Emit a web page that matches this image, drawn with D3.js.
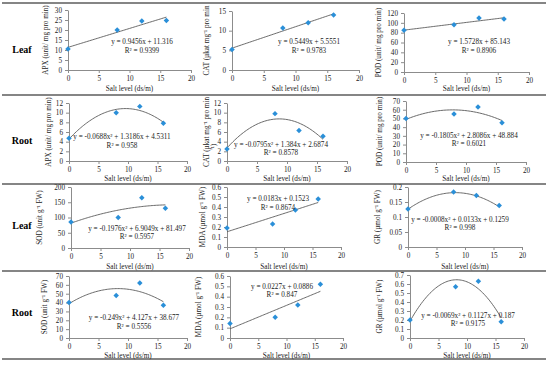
<!DOCTYPE html>
<html>
<head>
<meta charset="utf-8">
<script src="https://cdn.jsdelivr.net/npm/d3@7"></script>
<style>
  body { margin: 0; background: #fff; }
  svg { font-family: "Liberation Serif", "Times New Roman", serif; }
</style>
</head>
<body>
<div id="chart"></div>
<script>
// salt levels (ds/m)
const salt = [0, 8, 12, 16];

const apxLeaf = [10.5, 20, 24.5, 24.8];
const catLeaf = [5.2, 10.7, 12, 14];
const podLeaf = [85, 96, 110, 108];
const apxRoot = [4.7, 10, 11.3, 7.8];
const catRoot = [2.5, 9.8, 6.3, 5.1];
const podRoot = [50, 55, 63, 45];
const sodLeaf = [85, 100, 165, 130];
const mdaLeaf = [0.19, 0.23, 0.37, 0.48];
const grLeaf = [0.127, 0.183, 0.172, 0.138];
const sodRoot = [40, 48, 62, 37];
const mdaRoot = [0.14, 0.2, 0.32, 0.52];
const grRoot = [0.2, 0.57, 0.63, 0.18];

// trend line coefficients [x², x, const] as printed on the chart
const fitApxLeaf = [0, 0.9456, 11.316];
const fitCatLeaf = [0, 0.5449, 5.5551];
const fitPodLeaf = [0, 1.5728, 85.143];
const fitApxRoot = [-0.0688, 1.3186, 4.5311];
const fitCatRoot = [-0.0795, 1.384, 2.6874];
const fitPodRoot = [-0.1805, 2.8086, 48.884];
const fitSodLeaf = [-0.1976, 6.9049, 81.497];
const fitMdaLeaf = [0, 0.0183, 0.1523];
const fitGrLeaf = [-0.0008, 0.0133, 0.1259];
const fitSodRoot = [-0.249, 4.127, 38.677];
const fitMdaRoot = [0, 0.0227, 0.0886];
const fitGrRoot = [-0.0069, 0.1127, 0.187];

const eqTexts = [
  "y = 0.9456x + 11.316", "y = 0.5449x + 5.5551", "y = 1.5728x + 85.143",
  "y = -0.0688x² + 1.3186x + 4.5311", "y = -0.0795x² + 1.384x + 2.6874", "y = -0.1805x² + 2.8086x + 48.884",
  "y = -0.1976x² + 6.9049x + 81.497", "y = 0.0183x + 0.1523", "y = -0.0008x² + 0.0133x + 0.1259",
  "y = -0.249x² + 4.127x + 38.677", "y = 0.0227x + 0.0886", "y = -0.0069x² + 0.1127x + 0.187"
];
const r2Texts = [
  "R² = 0.9399", "R² = 0.9783", "R² = 0.8906",
  "R² = 0.958", "R² = 0.8578", "R² = 0.6021",
  "R² = 0.5957", "R² = 0.8674", "R² = 0.998",
  "R² = 0.5556", "R² = 0.847", "R² = 0.9175"
];
const yTitles = [
  "APX (unit/ mg pro min)", "CAT (µkat mg⁻¹ pro min", "POD (unit/ mg pro min)",
  "APX (unit/ mg pro min)", "CAT (µkat mg⁻¹ pro min", "POD (unit/ mg pro min)",
  "SOD (unit g⁻¹ FW)", "MDA (µmol g⁻¹ FW)", "GR (µmol g⁻¹ FW)",
  "SOD (unit g⁻¹ FW)", "MDA (µmol g⁻¹ FW)", "GR (µmol g⁻¹ FW)"
];
const yMax = [30, 15, 120, 12, 12, 70, 200, 0.6, 0.2, 70, 0.6, 0.7];
const yStep = [5, 5, 20, 2, 2, 10, 50, 0.1, 0.05, 10, 0.1, 0.1];
const rowLabels = ["Leaf", "Root", "Leaf", "Root"];

const values = [apxLeaf, catLeaf, podLeaf, apxRoot, catRoot, podRoot, sodLeaf, mdaLeaf, grLeaf, sodRoot, mdaRoot, grRoot];
const fits = [fitApxLeaf, fitCatLeaf, fitPodLeaf, fitApxRoot, fitCatRoot, fitPodRoot, fitSodLeaf, fitMdaLeaf, fitGrLeaf, fitSodRoot, fitMdaRoot, fitGrRoot];

// layout of each panel: plot left, right, top, bottom, y-title x, equation x, eq y, R² y
const layout = [
  [68, 191, 10, 70, 46, 142, 42.5, 51.5],
  [232, 359, 11, 70, 207, 309, 42.5, 51.5],
  [404, 529, 13, 72, 379, 479, 42.5, 51.5],
  [69, 187, 103, 161, 49, 122, 137.5, 146],
  [227, 347, 103, 161, 207, 281, 145, 153.5],
  [406, 526, 101, 162, 380, 469, 136, 144.5],
  [71, 189, 187, 248, 40, 137, 229, 237.5],
  [227, 341, 187, 247, 203, 278, 199.5, 208],
  [408, 522, 187, 247, 378, 460, 220, 228.5],
  [69, 187, 276, 338, 45, 134, 318.5, 327],
  [230, 343, 276, 338, 199, 282, 287, 295.5],
  [410, 524, 275, 338, 380, 468, 316, 324.5]
];
const xTitleY = [89, 179, 267, 356.5];
const rowLabelY = [51, 142, 227, 314];
const separators = [3, 95, 184, 271, 359];

const W = 550, H = 366;
const fs = 7.2;
const svg = d3.select("#chart").append("svg")
  .attr("width", W).attr("height", H);

svg.selectAll("line.sep").data(separators).enter().append("line")
  .attr("class", "sep")
  .attr("x1", 2).attr("x2", 546)
  .attr("y1", d => d).attr("y2", d => d)
  .attr("stroke", "#858585").attr("stroke-width", 2);

svg.selectAll("text.row").data(rowLabels).enter().append("text")
  .attr("class", "row")
  .attr("x", 22).attr("y", (d, i) => rowLabelY[i])
  .attr("text-anchor", "middle").attr("dominant-baseline", "middle")
  .attr("font-size", 10).attr("font-weight", "bold")
  .text(d => d);

const diamond = d3.symbol().type(d3.symbolSquare).size(15);

values.forEach((vals, i) => {
  const [l, r, t, b, tx, ex, ey, ry] = layout[i];
  const row = Math.floor(i / 3);
  const g = svg.append("g");

  const x = d3.scaleLinear().domain([0, 20]).range([l, r]);
  const y = d3.scaleLinear().domain([0, yMax[i]]).range([b, t]);

  const yTicks = d3.range(0, Math.round(yMax[i] / yStep[i]) + 1).map(k => +(k * yStep[i]).toFixed(3));

  const xAxis = g.append("g").attr("transform", `translate(0,${b})`)
    .call(d3.axisBottom(x).tickValues([0, 5, 10, 15, 20]).tickSize(3).tickSizeOuter(0).tickPadding(2.5));
  const yAxis = g.append("g").attr("transform", `translate(${l},0)`)
    .call(d3.axisLeft(y).tickValues(yTicks).tickFormat(d => String(d)).tickSize(3).tickSizeOuter(0).tickPadding(3));
  [xAxis, yAxis].forEach(a => {
    a.selectAll("path, line").attr("stroke", "#8c8c8c");
    a.selectAll("text").attr("font-size", fs).attr("fill", "#222")
      .attr("font-family", "Liberation Serif, serif");
  });

  // trend line
  const c = fits[i];
  const pts = d3.range(0, 16.001, 0.25).map(s => [s, c[0] * s * s + c[1] * s + c[2]]);
  g.append("path").datum(pts)
    .attr("fill", "none").attr("stroke", "#5a5a5a").attr("stroke-width", 0.9)
    .attr("d", d3.line().x(d => x(d[0])).y(d => y(d[1])));

  g.selectAll("path.pt").data(vals).enter().append("path")
    .attr("class", "pt")
    .attr("d", diamond)
    .attr("transform", (d, k) => `translate(${x(salt[k])},${y(d)}) rotate(45)`)
    .attr("fill", "#2a8fd8");

  g.append("text")
    .attr("x", ex).attr("y", ey)
    .attr("text-anchor", "middle").attr("dominant-baseline", "middle")
    .attr("font-size", fs).attr("fill", "#222")
    .text(eqTexts[i]);
  g.append("text")
    .attr("x", ex).attr("y", ry)
    .attr("text-anchor", "middle").attr("dominant-baseline", "middle")
    .attr("font-size", fs).attr("fill", "#222")
    .text(r2Texts[i]);

  g.append("text")
    .attr("x", (l + r) / 2).attr("y", xTitleY[row])
    .attr("text-anchor", "middle").attr("dominant-baseline", "middle")
    .attr("font-size", fs).attr("fill", "#222")
    .text("Salt level (ds/m)");

  g.append("text")
    .attr("transform", `translate(${tx},${(t + b) / 2}) rotate(-90)`)
    .attr("text-anchor", "middle").attr("dominant-baseline", "middle")
    .attr("font-size", fs).attr("fill", "#222")
    .text(yTitles[i]);
  if (i === 4) {
    // wrapped tail of the CAT root title
    g.append("text")
      .attr("transform", `translate(${tx + 7},${b - 14}) rotate(-90)`)
      .attr("text-anchor", "middle").attr("dominant-baseline", "middle")
      .attr("font-size", fs).attr("fill", "#222")
      .text("⁻¹)");
  }
});
</script>
</body>
</html>
